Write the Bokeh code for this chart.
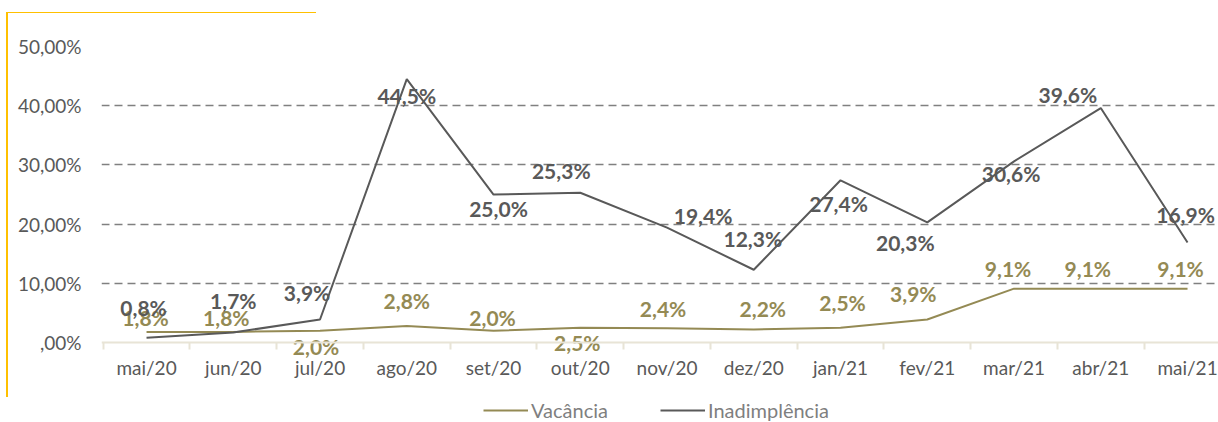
from bokeh.plotting import figure
from bokeh.models import ColumnDataSource, FixedTicker, Range1d, Legend, LegendItem
from bokeh.core.properties import value
from bokeh.embed import file_html
from bokeh.resources import INLINE

months = ["mai/20", "jun/20", "jul/20", "ago/20", "set/20", "out/20", "nov/20",
          "dez/20", "jan/21", "fev/21", "mar/21", "abr/21", "mai/21"]
vacancia = [1.8, 1.8, 2.0, 2.8, 2.0, 2.5, 2.4, 2.2, 2.5, 3.9, 9.1, 9.1, 9.1]
inadimplencia = [0.8, 1.7, 3.9, 44.5, 25.0, 25.3, 19.4, 12.3, 27.4, 20.3, 30.6, 39.6, 16.9]
y_ticks = [0, 10, 20, 30, 40, 50]
y_tick_labels = [",00%", "10,00%", "20,00%", "30,00%", "40,00%", "50,00%"]

# label offsets in screen pixels (layout only)
vac_dx = [-1, -7, -4, 0, -1, -3, -4, 9, 2, -14, -6, -13, -7]
vac_dy = [-14, -14, 16, -25, -13, 15, -20, -21, -25, -26, -20, -20, -20]
ina_dx = [-3, 0, -13, 0, 5, -19, 36, -1, -2, -22, -3, -33, -2]
ina_dy = [-30, -32, -27, 16, 14, -22, -12, -31, 23, 20, 12, -14, -28]

OLIVE = "#948A54"
DARK = "#595959"
FONT = "Lato"

def fmt(v):
    return f"{v:.1f}".replace(".", ",") + "%"

xs = list(range(len(months)))
vac_src = ColumnDataSource(dict(x=xs, y=vacancia, label=[fmt(v) for v in vacancia],
                                dx=vac_dx, dy=vac_dy))
ina_src = ColumnDataSource(dict(x=xs, y=inadimplencia, label=[fmt(v) for v in inadimplencia],
                                dx=ina_dx, dy=ina_dy))

yellow_bg = ("linear-gradient(#FFC000,#FFC000) 6px 12px / 2px 385px no-repeat, "
             "linear-gradient(#FFC000,#FFC000) 6px 12px / 310px 1px no-repeat, white")

p = figure(width=1218, height=422, output_backend="svg", toolbar_location=None,
           x_range=Range1d(-0.519, 12.357), y_range=Range1d(-13.5, 50),
           min_border_left=101, min_border_right=0, min_border_top=46, min_border_bottom=0,
           styles={"background": yellow_bg})
p.outline_line_color = None
p.background_fill_color = "white"
p.border_fill_color = None

r_vac = p.line("x", "y", source=vac_src, line_color=OLIVE, line_width=2)
r_ina = p.line("x", "y", source=ina_src, line_color=DARK, line_width=2)

common = dict(x="x", y="y", text="label", x_offset="dx", y_offset="dy",
              text_align="center", text_baseline="middle",
              text_font=value(FONT), text_font_style="bold", text_font_size="21px")
p.text(source=vac_src, text_color=OLIVE, **common)
p.text(source=ina_src, text_color=DARK, **common)

# x axis, pinned at 0%
p.xaxis.fixed_location = 0
p.xaxis.ticker = FixedTicker(ticks=xs, minor_ticks=[i - 0.5 for i in range(len(months) + 1)])
p.xaxis.major_label_overrides = {i: m for i, m in enumerate(months)}
p.xaxis.axis_line_color = "#E8E4D6"
p.xaxis.axis_line_width = 2
p.xaxis.major_tick_line_color = None
p.xaxis.minor_tick_line_color = "#E8E4D6"
p.xaxis.minor_tick_line_width = 2
p.xaxis.minor_tick_out = 7
p.xaxis.minor_tick_in = 0
p.xaxis.major_label_standoff = 6
p.xaxis.major_label_text_font = FONT
p.xaxis.major_label_text_font_size = "19px"
p.xaxis.major_label_text_color = DARK

# y axis
p.yaxis.ticker = FixedTicker(ticks=y_ticks)
p.yaxis.major_label_overrides = {t: l for t, l in zip(y_ticks, y_tick_labels)}
p.yaxis.axis_line_color = None
p.yaxis.major_tick_line_color = None
p.yaxis.minor_tick_line_color = None
p.yaxis.major_label_standoff = 14
p.yaxis.major_label_text_font = FONT
p.yaxis.major_label_text_font_size = "19px"
p.yaxis.major_label_text_color = DARK

p.xgrid.grid_line_color = None
p.ygrid.ticker = FixedTicker(ticks=y_ticks[1:])
p.ygrid.grid_line_color = "#808080"
p.ygrid.grid_line_width = 1.5
p.ygrid.grid_line_dash = "8 5"

legend = Legend(items=[LegendItem(label="Vacância", renderers=[r_vac]),
                       LegendItem(label="Inadimplência", renderers=[r_ina])],
                orientation="horizontal", location=(382, 0),
                glyph_width=45, glyph_height=20, label_standoff=3, spacing=52,
                label_text_font=FONT, label_text_font_size="20px",
                label_text_color="#7F7F7F", border_line_color=None,
                background_fill_alpha=0, padding=0, margin=0)
p.add_layout(legend, "center")

open("out.html", "w").write(file_html(p, INLINE))
